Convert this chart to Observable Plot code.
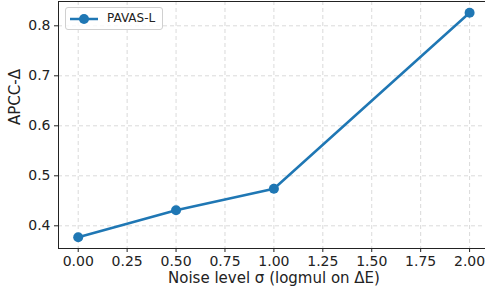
<!DOCTYPE html>
<html><head><meta charset="utf-8">
<script src="https://cdn.jsdelivr.net/npm/d3@7"></script>
<script src="https://cdn.jsdelivr.net/npm/@observablehq/plot@0.6"></script>
<style>
body{margin:0;background:#fff;font-family:"DejaVu Sans",sans-serif;}
#wrap{position:relative;width:485px;height:292px;overflow:hidden;}
#wrap g[aria-label="x-axis tick label"], #wrap g[aria-label="y-axis tick label"]{font-size:14px;}
#legend{position:absolute;left:65px;top:7px;width:98px;height:23px;border:1px solid #d0d0d0;border-radius:3px;background:rgba(255,255,255,0.8);box-sizing:border-box;font-size:12px;color:#222;}
#legend svg{position:absolute;left:3px;top:3px;}
#legend span{position:absolute;left:41px;top:3px;line-height:15px;}
</style></head>
<body><div id="wrap"><div id="legend"><svg width="32" height="16"><line x1="1" y1="8" x2="29" y2="8" stroke="#1f77b4" stroke-width="2.5"/><circle cx="15" cy="8" r="5" fill="#1f77b4"/></svg><span>PAVAS-L</span></div></div>
<script>
const noise = [0.0, 0.5, 1.0, 2.0];
const apcc = [0.377, 0.431, 0.474, 0.826];
const xTicks = [0, 0.25, 0.5, 0.75, 1.0, 1.25, 1.5, 1.75, 2.0];
const yTicks = [0.4, 0.5, 0.6, 0.7, 0.8];
const seriesName = "PAVAS-L";
const data = noise.map((x, i) => ({x, y: apcc[i]}));
const color = "#1f77b4";
const yTop = 0.8486;

const chart = Plot.plot({
  width: 485, height: 292,
  marginLeft: 58, marginRight: 0, marginTop: 1, marginBottom: 44,
  style: {fontFamily: "DejaVu Sans", fontSize: "14px", color: "#222", background: "#fff"},
  x: {domain: [-0.1007, 2.0813], ticks: xTicks, tickFormat: d3.format(".2f"), label: null},
  y: {domain: [0.3546, yTop], ticks: yTicks, tickFormat: d3.format(".1f"), label: null},
  marks: [
    Plot.gridX(xTicks, {stroke: "#b0b0b0", strokeOpacity: 0.6, strokeDasharray: "4,3", strokeWidth: 0.8}),
    Plot.gridY(yTicks, {stroke: "#b0b0b0", strokeOpacity: 0.6, strokeDasharray: "4,3", strokeWidth: 0.8}),
    Plot.axisX(xTicks, {tickSize: 4, tickPadding: 4, tickFormat: d3.format(".2f"), label: null, stroke: "#222"}),
    Plot.axisY(yTicks, {tickSize: 4, tickPadding: 4, tickFormat: d3.format(".1f"), label: null, stroke: "#222"}),
    Plot.frame({anchor: "left", stroke: "#222", strokeWidth: 1}),
    Plot.frame({anchor: "bottom", stroke: "#222", strokeWidth: 1}),
    Plot.frame({anchor: "top", stroke: "#222", strokeWidth: 1}),
    Plot.line(data, {x: "x", y: "y", stroke: color, strokeWidth: 2.5}),
    Plot.dot(data, {x: "x", y: "y", fill: color, r: 5}),
    Plot.text(["Noise level σ (logmul on ΔE)"], {frameAnchor: "bottom", dy: 34, fontSize: 15, fill: "#222", text: d => d, dx: 2}),
    Plot.text(["APCC-Δ"], {frameAnchor: "left", dx: -43, rotate: -90, fontSize: 15, fill: "#222", text: d => d})
  ]
});
document.getElementById("wrap").prepend(chart);
chart.style.position = "absolute"; chart.style.left = "0"; chart.style.top = "0";
</script></body></html>
